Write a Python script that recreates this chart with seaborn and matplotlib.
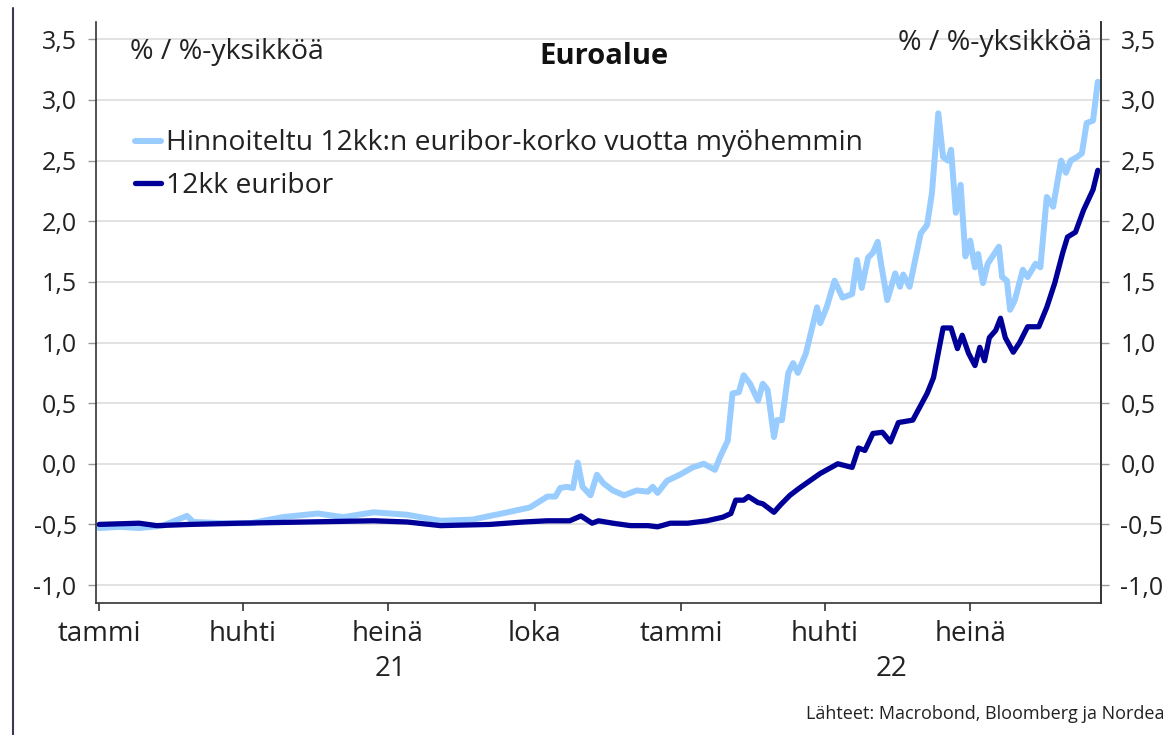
import matplotlib
matplotlib.use("Agg")
import matplotlib.pyplot as plt
import matplotlib.dates as mdates
from matplotlib.ticker import FuncFormatter
from matplotlib.lines import Line2D
import matplotlib.transforms as mtransforms
import seaborn as sns
import pandas as pd

# Hinnoiteltu 12kk:n euribor-korko vuotta myöhemmin (light blue)
fwd_dates = [
    "2021-01-01", "2021-01-14", "2021-01-26", "2021-02-10", "2021-02-25", "2021-03-01",
    "2021-03-20", "2021-04-06", "2021-04-26", "2021-05-18", "2021-06-03", "2021-06-22",
    "2021-07-13", "2021-08-03", "2021-08-23", "2021-09-14", "2021-09-28", "2021-10-09",
    "2021-10-14", "2021-10-17", "2021-10-21", "2021-10-25", "2021-10-28", "2021-10-31",
    "2021-11-05", "2021-11-09", "2021-11-13", "2021-11-19", "2021-11-26", "2021-12-04",
    "2021-12-11", "2021-12-14", "2021-12-17", "2021-12-23", "2021-12-31", "2022-01-08",
    "2022-01-15", "2022-01-22", "2022-01-25", "2022-01-30", "2022-02-02", "2022-02-06",
    "2022-02-09", "2022-02-13", "2022-02-18", "2022-02-21", "2022-02-24", "2022-02-28",
    "2022-03-02", "2022-03-05", "2022-03-09", "2022-03-12", "2022-03-15", "2022-03-20",
    "2022-03-27", "2022-03-29", "2022-04-02", "2022-04-07", "2022-04-12", "2022-04-18",
    "2022-04-21", "2022-04-24", "2022-04-28", "2022-05-01", "2022-05-04", "2022-05-06",
    "2022-05-10", "2022-05-15", "2022-05-18", "2022-05-20", "2022-05-24", "2022-05-31",
    "2022-06-04", "2022-06-07", "2022-06-11", "2022-06-14", "2022-06-17", "2022-06-19",
    "2022-06-22", "2022-06-25", "2022-06-28", "2022-07-01", "2022-07-04", "2022-07-06",
    "2022-07-09", "2022-07-12", "2022-07-19", "2022-07-21", "2022-07-24", "2022-07-26",
    "2022-07-29", "2022-08-03", "2022-08-06", "2022-08-11", "2022-08-14", "2022-08-18",
    "2022-08-22", "2022-08-27", "2022-08-30", "2022-09-02", "2022-09-06", "2022-09-09",
    "2022-09-12", "2022-09-16", "2022-09-19",
]
fwd_values = [
    -0.53, -0.52, -0.53, -0.51, -0.43, -0.48,
    -0.49, -0.49, -0.44, -0.41, -0.44, -0.40,
    -0.42, -0.47, -0.46, -0.40, -0.36, -0.27,
    -0.27, -0.20, -0.19, -0.20, 0.01, -0.19,
    -0.26, -0.09, -0.16, -0.22, -0.26, -0.22,
    -0.23, -0.19, -0.24, -0.14, -0.09, -0.03,
    0.00, -0.05, 0.05, 0.19, 0.58, 0.59,
    0.73, 0.66, 0.52, 0.66, 0.61, 0.22,
    0.36, 0.36, 0.75, 0.83, 0.75, 0.91,
    1.29, 1.16, 1.29, 1.51, 1.37, 1.40,
    1.68, 1.45, 1.70, 1.74, 1.83, 1.66,
    1.35, 1.57, 1.46, 1.56, 1.46, 1.90,
    1.97, 2.23, 2.89, 2.53, 2.50, 2.59,
    2.07, 2.30, 1.71, 1.84, 1.62, 1.73,
    1.49, 1.65, 1.79, 1.54, 1.51, 1.27,
    1.35, 1.60, 1.54, 1.65, 1.62, 2.20,
    2.12, 2.50, 2.40, 2.50, 2.53, 2.56,
    2.81, 2.83, 3.15,
]

# 12kk euribor (dark blue)
eur_dates = [
    "2021-01-01", "2021-01-26", "2021-02-06", "2021-02-27", "2021-03-30", "2021-05-11",
    "2021-06-22", "2021-07-13", "2021-08-03", "2021-09-03", "2021-09-24", "2021-10-09",
    "2021-10-23", "2021-10-30", "2021-11-06", "2021-11-10", "2021-11-19", "2021-11-30",
    "2021-12-11", "2021-12-17", "2021-12-25", "2022-01-05", "2022-01-17", "2022-01-27",
    "2022-02-01", "2022-02-04", "2022-02-09", "2022-02-12", "2022-02-18", "2022-02-21",
    "2022-02-28", "2022-03-04", "2022-03-10", "2022-03-16", "2022-03-29", "2022-04-09",
    "2022-04-18", "2022-04-22", "2022-04-26", "2022-05-01", "2022-05-07", "2022-05-12",
    "2022-05-17", "2022-05-26", "2022-06-04", "2022-06-08", "2022-06-14", "2022-06-19",
    "2022-06-23", "2022-06-26", "2022-06-30", "2022-07-04", "2022-07-07", "2022-07-10",
    "2022-07-13", "2022-07-17", "2022-07-20", "2022-07-23", "2022-07-28", "2022-08-01",
    "2022-08-06", "2022-08-13", "2022-08-18", "2022-08-23", "2022-08-28", "2022-08-31",
    "2022-09-05", "2022-09-10", "2022-09-16", "2022-09-19",
]
eur_values = [
    -0.50, -0.49, -0.51, -0.50, -0.49, -0.48,
    -0.47, -0.48, -0.51, -0.50, -0.48, -0.47,
    -0.47, -0.43, -0.49, -0.47, -0.49, -0.51,
    -0.51, -0.52, -0.49, -0.49, -0.47, -0.44,
    -0.41, -0.30, -0.30, -0.27, -0.32, -0.33,
    -0.40, -0.34, -0.26, -0.20, -0.08, 0.00,
    -0.03, 0.13, 0.11, 0.25, 0.26, 0.18,
    0.34, 0.36, 0.58, 0.71, 1.12, 1.12,
    0.95, 1.06, 0.91, 0.81, 0.96, 0.85,
    1.04, 1.10, 1.20, 1.04, 0.92, 1.00,
    1.13, 1.13, 1.29, 1.49, 1.74, 1.87,
    1.91, 2.09, 2.26, 2.42,
]

month_ticks = ["2021-01-01", "2021-04-01", "2021-07-01", "2021-10-01",
               "2022-01-01", "2022-04-01", "2022-07-01"]
month_labels = ["tammi", "huhti", "heinä", "loka", "tammi", "huhti", "heinä"]
year_labels = ["21", "22"]
y_ticks = [-1.0, -0.5, 0.0, 0.5, 1.0, 1.5, 2.0, 2.5, 3.0, 3.5]

LIGHT = "#99CCFF"
DARK = "#000099"
TXT = "#222222"

sns.set_theme(style="white")
plt.rcParams["font.family"] = ["Open Sans", "DejaVu Sans"]

fwd = pd.DataFrame({"date": pd.to_datetime(fwd_dates), "value": fwd_values})
eur = pd.DataFrame({"date": pd.to_datetime(eur_dates), "value": eur_values})

fig = plt.figure(figsize=(11.75, 7.35), dpi=100)
ax = fig.add_axes([96 / 1175, 1 - 603 / 735, (1101 - 96) / 1175, (603 - 22) / 735])

sns.lineplot(data=fwd, x="date", y="value", ax=ax, color=LIGHT, linewidth=4.3,
             label="Hinnoiteltu 12kk:n euribor-korko vuotta myöhemmin")
sns.lineplot(data=eur, x="date", y="value", ax=ax, color=DARK, linewidth=3.8,
             label="12kk euribor")

ax.set_xlim(pd.Timestamp("2020-12-30"), pd.Timestamp("2022-09-21"))
ax.set_ylim(-1.148, 3.643)
ax.set_xlabel("")
ax.set_ylabel("")

fmt = FuncFormatter(lambda v, p: f"{v:.1f}".replace(".", ","))
ax.set_yticks(y_ticks)
ax.yaxis.set_major_formatter(fmt)
ax.grid(axis="y", color="#DDDDDD", linewidth=1.2)
ax.set_axisbelow(True)

ax.set_xticks(pd.to_datetime(month_ticks))
ax.set_xticklabels(month_labels)

ax.spines["top"].set_visible(False)
for s in ["left", "bottom", "right"]:
    ax.spines[s].set_color("#333333")
    ax.spines[s].set_linewidth(1.2)

ax.tick_params(axis="x", direction="out", length=6, width=1.2, color="#333333",
               labelsize=20, labelcolor=TXT, pad=6, bottom=True)
ax.tick_params(axis="y", direction="out", length=6, width=1, color="#999999",
               labelsize=18, labelcolor=TXT, pad=8, left=True)

# right axis mirrors the left one
ax2 = ax.twinx()
ax2.set_ylim(ax.get_ylim())
ax2.set_yticks(y_ticks)
ax2.yaxis.set_major_formatter(fmt)
ax2.tick_params(axis="y", direction="out", length=6, width=1, color="#999999",
                labelsize=18, labelcolor=TXT, pad=8, right=True)
ax2.grid(False)
for s in ["top", "left", "bottom"]:
    ax2.spines[s].set_visible(False)
ax2.spines["right"].set_color("#333333")
ax2.spines["right"].set_linewidth(1.2)

# year labels centred under each year's visible span
trans = mtransforms.blended_transform_factory(ax.transData, ax.transAxes)
xmin, xmax = ax.get_xlim()
j21 = mdates.date2num(pd.Timestamp("2021-01-01"))
j22 = mdates.date2num(pd.Timestamp("2022-01-01"))
ax.text((j21 + j22) / 2, -0.113, year_labels[0], transform=trans, ha="center",
        va="center", fontsize=20, color=TXT)
ax.text((j22 + xmax) / 2, -0.113, year_labels[1], transform=trans, ha="center",
        va="center", fontsize=20, color=TXT)

leg = ax.legend(loc="upper left", bbox_to_anchor=(0.039, 0.815), frameon=False,
                fontsize=20.3, handlelength=0.9, handletextpad=0.18,
                labelspacing=0.5, borderpad=0, borderaxespad=0)
for t in leg.get_texts():
    t.set_color(TXT)

ax.text(0.505, 0.94, "Euroalue", transform=ax.transAxes, ha="center", va="center",
        fontsize=21, fontweight="bold", color="#111111")
ax.text(0.034, 0.948, "% / %-yksikköä", transform=ax.transAxes, ha="left",
        va="center", fontsize=20.5, color=TXT)
ax.text(0.991, 0.963, "% / %-yksikköä", transform=ax.transAxes, ha="right",
        va="center", fontsize=20.5, color=TXT)

fig.text(1165 / 1175, 1 - 714 / 735, "Lähteet: Macrobond, Bloomberg ja Nordea",
         ha="right", va="center", fontsize=13, color=TXT)

fig.add_artist(Line2D([13 / 1175, 13 / 1175], [0, 1 - 8 / 735], color="#3A3A55",
                      linewidth=1.5))

fig.savefig("out.png", dpi=100)
